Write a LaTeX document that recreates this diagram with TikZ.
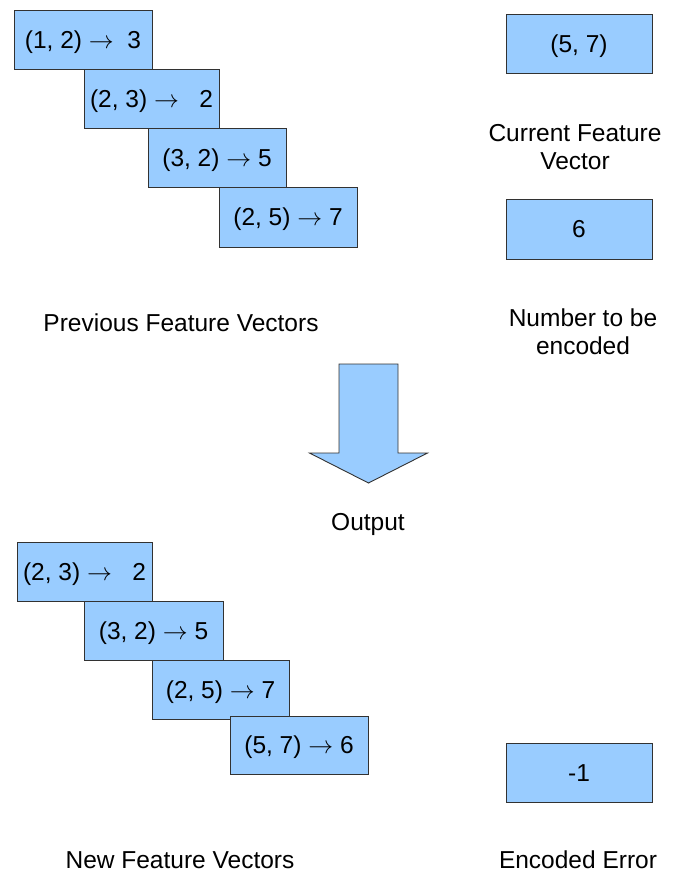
\documentclass[tikz,border=0pt]{standalone}
\usepackage{fontspec}
\setmainfont{Liberation Sans}
\definecolor{boxblue}{RGB}{153,204,255}
\definecolor{edgegray}{RGB}{50,50,50}
\newcommand{\myto}{\ensuremath{\rightarrow}}
\begin{document}
\begin{tikzpicture}[x=1pt,y=-1pt,
  vbox/.style={draw=edgegray, line width=0.9pt, fill=boxblue, minimum height=59pt,
    inner sep=0pt, font=\fontsize{24.5}{28}\selectfont, text height=17.5pt, text depth=0pt},
  lbl/.style={inner sep=0pt, font=\fontsize{24.5}{28}\selectfont, align=center},
  bigarrow/.style={draw=edgegray, line width=0.9pt, fill=boxblue, line join=miter}]
\useasboundingbox (0,0) rectangle (683,877);

% previous feature vectors
\node[vbox, minimum width=138pt] (p1) at (83,40) {(1, 2) \myto\ \ 3};
\node[vbox, minimum width=135pt] (p2) at (151.5,98.5) {(2, 3) \myto\ \ \ 2};
\node[vbox, minimum width=138pt] (p3) at (217,157.5) {(3, 2) \myto{} 5};
\node[vbox, minimum width=138pt, minimum height=60pt] (p4) at (288,217) {(2, 5) \myto{} 7};
\node[lbl, anchor=base] (prevlbl) at (181,331) {Previous Feature Vectors};

% current feature vector and number
\node[vbox, minimum width=146pt] (cur) at (579,43.5) {(5, 7)};
\node[lbl] (curlbl) at (575,147) {Current Feature\\Vector};
\node[vbox, minimum width=146pt, minimum height=60pt] (num) at (579,229) {6};
\node[lbl] (numlbl) at (583,331.5) {Number to be\\encoded};

% big arrow
\draw[bigarrow] (339,364) -- (398,364) -- (398,453) -- (427.5,453) -- (368.5,483)
  -- (309.5,453) -- (339,453) -- cycle;
\node[lbl, anchor=base] (outlbl) at (368,530.5) {Output};

% new feature vectors
\node[vbox, minimum width=135pt] (n1) at (84.5,571.5) {(2, 3) \myto\ \ \ 2};
\node[vbox, minimum width=139pt] (n2) at (153.5,630.5) {(3, 2) \myto{} 5};
\node[vbox, minimum width=137pt] (n3) at (220.5,689.5) {(2, 5) \myto{} 7};
\node[vbox, minimum width=138pt, minimum height=58pt] (n4) at (299,745) {(5, 7) \myto{} 6};
\node[lbl, anchor=base] (newlbl) at (180,868.8) {New Feature Vectors};

% encoded error
\node[vbox, minimum width=146pt] (err) at (579,772.5) {-1};
\node[lbl, anchor=base] (errlbl) at (578,868.8) {Encoded Error};
\end{tikzpicture}
\end{document}
